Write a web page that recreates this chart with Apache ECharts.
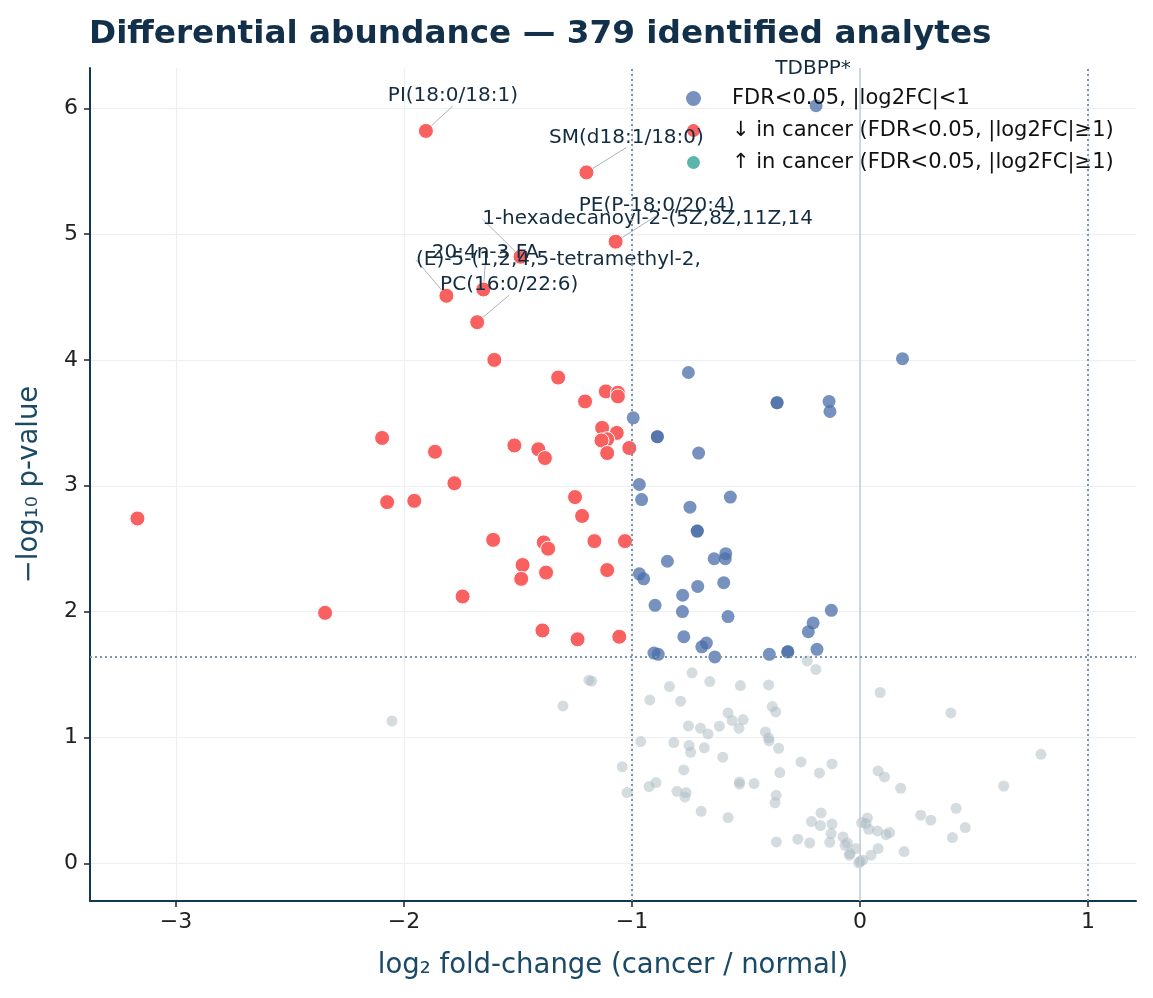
<!DOCTYPE html>
<html>
<head>
<meta charset="utf-8">
<script src="https://cdn.jsdelivr.net/npm/echarts@6/dist/echarts.min.js"></script>
<style>
  html, body { margin: 0; padding: 0; background: #fff; }
  #main { width: 1153px; height: 998px; }
</style>
</head>
<body>
<div id="main"></div>
<script>
// volcano plot: log2 FC vs -log10 p
var FONT = 'DejaVu Sans';

var xTicks = [-3, -2, -1, 0, 1];
var yTicks = [0, 1, 2, 3, 4, 5, 6];
var fcCut = [-1, 1];
var pCut = 1.637;

// ↓ in cancer (red). first seven carry names
var downPoints = [
	[-1.904, 5.82], [-1.200, 5.49], [-1.072, 4.94], [-1.489, 4.82], [-1.652, 4.56],
	[-1.814, 4.51], [-1.679, 4.30],
	[-1.604, 4.00], [-1.324, 3.86], [-1.115, 3.75], [-1.062, 3.74], [-1.062, 3.71],
	[-1.206, 3.67], [-1.131, 3.46], [-1.067, 3.42], [-1.109, 3.37], [-1.134, 3.36],
	[-1.109, 3.26], [-1.012, 3.30], [-2.096, 3.38], [-1.864, 3.27], [-1.516, 3.32],
	[-1.411, 3.29], [-1.382, 3.22], [-1.779, 3.02], [-2.074, 2.87], [-1.955, 2.88],
	[-3.169, 2.74], [-1.250, 2.91], [-1.219, 2.76], [-1.609, 2.57], [-1.387, 2.55],
	[-1.368, 2.50], [-1.165, 2.56], [-1.031, 2.56], [-1.480, 2.37], [-1.486, 2.26],
	[-1.377, 2.31], [-1.109, 2.33], [-1.743, 2.12], [-2.346, 1.99], [-1.393, 1.85],
	[-1.239, 1.78], [-1.056, 1.80]
];
var downNames = ['PI(18:0/18:1)', 'SM(d18:1/18:0)', 'PE(P-18:0/20:4)',
	'1-hexadecanoyl-2-(5Z,8Z,11Z,14', '20:4n-3 FA', '(E)-5-(1,2,4,5-tetramethyl-2,', 'PC(16:0/22:6)'];

// FDR<0.05 but small fold change (blue)
var sigPoints = [
	[-0.193, 6.02],
	[0.186, 4.01], [-0.753, 3.90], [-0.364, 3.66], [-0.364, 3.66], [-0.136, 3.67],
	[-0.132, 3.59], [-0.995, 3.54], [-0.889, 3.39], [-0.889, 3.39], [-0.708, 3.26],
	[-0.968, 3.01], [-0.958, 2.89], [-0.569, 2.91], [-0.746, 2.83], [-0.714, 2.64],
	[-0.714, 2.64], [-0.845, 2.40], [-0.640, 2.42], [-0.589, 2.46], [-0.591, 2.42],
	[-0.968, 2.30], [-0.949, 2.26], [-0.598, 2.23], [-0.712, 2.20], [-0.778, 2.13],
	[-0.899, 2.05], [-0.779, 2.00], [-0.579, 1.96], [-0.126, 2.01], [-0.206, 1.91],
	[-0.227, 1.84], [-0.189, 1.70], [-0.317, 1.68], [-0.317, 1.68], [-0.398, 1.66],
	[-0.773, 1.80], [-0.694, 1.72], [-0.674, 1.75], [-0.637, 1.64], [-0.904, 1.67],
	[-0.885, 1.66]
];
var sigNames = ['TDBPP*'];

// ↑ in cancer: none
var upPoints = [];

// not significant (grey)
var nsPoints = [
	[-2.053, 1.13], [-1.303, 1.25], [-1.189, 1.455], [-1.177, 1.447], [-0.737, 1.513],
	[-0.836, 1.404], [-0.659, 1.444], [-0.525, 1.412], [-0.401, 1.417], [-0.922, 1.298],
	[-0.787, 1.288], [-0.385, 1.245], [-0.370, 1.203], [-0.579, 1.195], [-0.561, 1.134],
	[-0.513, 1.142], [-0.753, 1.091], [-0.700, 1.073], [-0.667, 1.028], [-0.617, 1.089],
	[-0.531, 1.073], [-0.415, 1.044], [-0.401, 0.996], [-0.399, 0.972], [-0.962, 0.967],
	[-0.817, 0.959], [-0.750, 0.936], [-0.743, 0.882], [-0.683, 0.917], [-0.602, 0.843],
	[-0.357, 0.914], [-1.043, 0.766], [-0.773, 0.742], [-0.352, 0.721], [-0.259, 0.805],
	[-0.178, 0.718], [-0.123, 0.789], [-0.925, 0.610], [-0.895, 0.641], [-1.022, 0.562],
	[-0.803, 0.572], [-0.763, 0.562], [-0.768, 0.527], [-0.529, 0.646], [-0.529, 0.628],
	[-0.465, 0.633], [-0.368, 0.540], [-0.373, 0.480], [-0.697, 0.413], [-0.579, 0.363],
	[-0.367, 0.169], [-0.273, 0.191], [-0.221, 0.161], [-0.213, 0.331], [-0.171, 0.400],
	[-0.174, 0.300], [-0.123, 0.312], [-0.127, 0.236], [-0.133, 0.167], [-0.075, 0.209],
	[-0.056, 0.161], [-0.044, 0.077], [-0.047, 0.064], [-0.066, 0.143], [-0.019, 0.117],
	[0.000, 0.016], [0.012, 0.024], [-0.006, 0.003], [0.007, 0.323], [0.032, 0.360],
	[0.026, 0.315], [0.038, 0.270], [0.048, 0.064], [0.079, 0.117], [0.076, 0.257],
	[0.114, 0.228], [0.130, 0.244], [0.079, 0.734], [0.107, 0.686], [0.088, 1.357],
	[0.178, 0.596], [0.193, 0.093], [0.266, 0.382], [0.310, 0.342], [0.421, 0.437],
	[0.461, 0.284], [0.405, 0.204], [0.398, 1.195], [0.630, 0.614], [0.793, 0.866],
	[-0.232, 1.608], [-0.194, 1.540]
];

// where each annotation sits relative to its point (px)
var labelShift = {
	'PI(18:0/18:1)': [27, -35],
	'SM(d18:1/18:0)': [40, -35],
	'PE(P-18:0/20:4)': [41, -36],
	'1-hexadecanoyl-2-(5Z,8Z,11Z,14': [127, -38],
	'20:4n-3 FA': [2, -37],
	'(E)-5-(1,2,4,5-tetramethyl-2,': [112, -36],
	'PC(16:0/22:6)': [32, -37],
	'TDBPP*': [-3, -37]
};

function withNames(points, names) {
	return points.map(function (p, i) {
		var item = { value: p, name: names[i] || '' };
		if (names[i]) {
			item.label = { show: true };
			item.labelLine = { show: names[i] !== 'TDBPP*' };
		}
		return item;
	});
}

function minus(v) {
	return String(v).replace('-', '\u2212');
}

var annLabel = {
	show: false,
	position: 'inside',
	formatter: function (p) { return p.name; },
	color: '#132c40',
	opacity: 1,
	textBorderWidth: 0,
	fontFamily: FONT,
	fontSize: 20
};
var annLine = {
	show: false,
	length2: 0,
	lineStyle: { color: '#aab4bc', width: 1, opacity: 1 }
};
function annLayout(params) {
	var s = labelShift[params.text];
	if (!s) return {};
	return { dx: s[0], dy: s[1] };
}

var myChart = echarts.init(document.getElementById('main'));
var option = {
	animation: false,
	backgroundColor: '#fff',
	title: {
		text: 'Differential abundance \u2014 379 identified analytes',
		left: 84,
		top: 13,
		textStyle: { fontFamily: FONT, fontSize: 32.7, fontWeight: 'bold', color: '#13304a' }
	},
	legend: {
		orient: 'vertical',
		left: 680,
		top: 83,
		itemWidth: 15,
		itemHeight: 15,
		itemGap: 11,
		icon: 'circle',
		data: ['FDR<0.05, |log2FC|<1', '\u2193 in cancer (FDR<0.05, |log2FC|\u22651)', '\u2191 in cancer (FDR<0.05, |log2FC|\u22651)'],
		textStyle: { fontFamily: FONT, fontSize: 21, color: '#111', padding: [0, 0, 0, 26] }
	},
	grid: { left: 90, right: 17, top: 68, bottom: 97 },
	xAxis: {
		type: 'value',
		min: -3.377,
		max: 1.21,
		name: 'log\u2082 fold-change (cancer / normal)',
		nameLocation: 'middle',
		nameGap: 51,
		nameTextStyle: { fontFamily: FONT, fontSize: 27.5, color: '#1b4a66' },
		axisLine: { show: true, onZero: false, lineStyle: { color: '#12384f', width: 2 } },
		axisTick: { show: true, length: 6, customValues: xTicks, lineStyle: { color: '#222', width: 1.5 } },
		axisLabel: { customValues: xTicks, margin: 10, fontFamily: FONT, fontSize: 22, color: '#222', formatter: minus },
		splitLine: { show: true, lineStyle: { color: '#eceff2', width: 1.2 } }
	},
	yAxis: {
		type: 'value',
		min: -0.3,
		max: 6.32,
		name: '\u2212log\u2081\u2080 p-value',
		nameLocation: 'middle',
		nameGap: 46,
		nameTextStyle: { fontFamily: FONT, fontSize: 27.5, color: '#1b4a66' },
		axisLine: { show: true, onZero: false, lineStyle: { color: '#12384f', width: 2 } },
		axisTick: { show: true, length: 6, customValues: yTicks, lineStyle: { color: '#222', width: 1.5 } },
		axisLabel: { customValues: yTicks, margin: 12, fontFamily: FONT, fontSize: 22, color: '#222' },
		splitLine: { show: true, lineStyle: { color: '#eceff2', width: 1.2 } }
	},
	series: [
		{
			name: 'ns',
			type: 'scatter',
			z: 2,
			symbolSize: 11,
			itemStyle: { color: '#a9b9c2', opacity: 0.5 },
			data: nsPoints,
			markLine: {
				silent: true,
				symbol: 'none',
				label: { show: false },
				data: [
					{ xAxis: 0, lineStyle: { color: '#c5d0d8', width: 1.6, type: 'solid' } },
					{ xAxis: fcCut[0], lineStyle: { color: '#7f95a8', width: 2, type: [2, 3] } },
					{ xAxis: fcCut[1], lineStyle: { color: '#7f95a8', width: 2, type: [2, 3] } },
					{ yAxis: pCut, lineStyle: { color: '#7f95a8', width: 2, type: [2, 3] } }
				]
			}
		},
		{
			name: 'FDR<0.05, |log2FC|<1',
			type: 'scatter',
			z: 3,
			symbolSize: 13,
			itemStyle: { color: '#4a6ea8', opacity: 0.75 },
			data: withNames(sigPoints, sigNames),
			label: annLabel,
			labelLine: annLine,
			labelLayout: annLayout
		},
		{
			name: '\u2193 in cancer (FDR<0.05, |log2FC|\u22651)',
			type: 'scatter',
			z: 4,
			symbolSize: 15,
			itemStyle: { color: '#f96060', opacity: 1, borderColor: '#fff', borderWidth: 1 },
			data: withNames(downPoints, downNames),
			label: annLabel,
			labelLine: annLine,
			labelLayout: annLayout
		},
		{
			name: '\u2191 in cancer (FDR<0.05, |log2FC|\u22651)',
			type: 'scatter',
			z: 4,
			symbolSize: 15,
			itemStyle: { color: '#5ab5ac', opacity: 1, borderColor: '#fff', borderWidth: 1 },
			data: upPoints
		}
	]
};
myChart.setOption(option);
</script>
</body>
</html>
